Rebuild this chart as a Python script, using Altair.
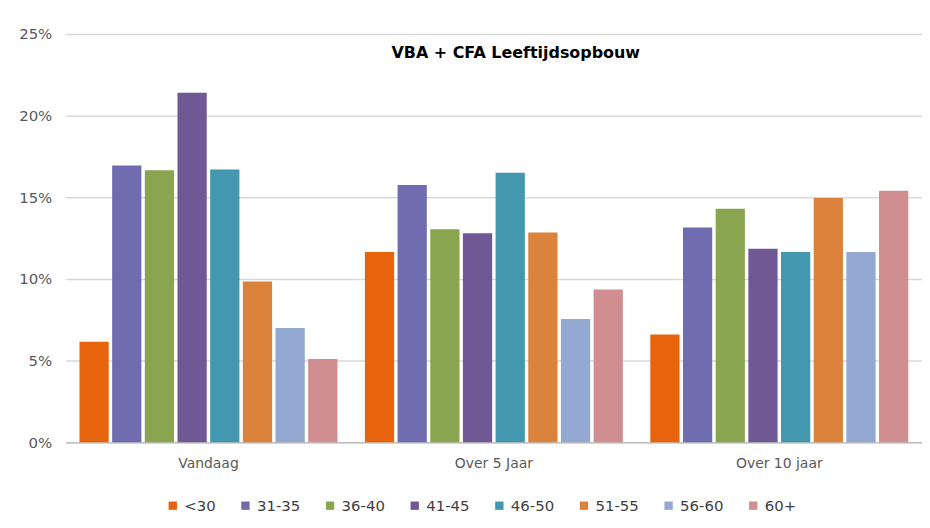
import altair as alt
import pandas as pd

groups = ["Vandaag", "Over 5 Jaar", "Over 10 jaar"]
ages = ["<30", "31-35", "36-40", "41-45", "46-50", "51-55", "56-60", "60+"]
colors = ["#E8640C", "#6F6DB0", "#8AA550", "#6F5893", "#4397AE", "#DB823D", "#94A9D1", "#D18E90"]

vandaag = [6.15, 16.95, 16.65, 21.4, 16.7, 9.85, 7.0, 5.1]
over5 = [11.65, 15.75, 13.05, 12.8, 16.5, 12.85, 7.55, 9.35]
over10 = [6.6, 13.15, 14.3, 11.85, 11.65, 14.95, 11.65, 15.4]

rows = []
for g, vals in zip(groups, [vandaag, over5, over10]):
    for a, v in zip(ages, vals):
        rows.append({"groep": g, "leeftijd": a, "pct": v / 100})
df = pd.DataFrame(rows)

font = "DejaVu Sans"

chart = alt.Chart(df).mark_bar().encode(
    x=alt.X("groep:N", sort=groups, title=None,
            scale=alt.Scale(paddingInner=0, paddingOuter=0),
            axis=alt.Axis(labelAngle=0, ticks=False, grid=False, domainColor="#BFBFBF", domainWidth=1.5,
                          labelPadding=14, labelFontSize=14, labelColor="#595959", labelFont=font)),
    xOffset=alt.XOffset("leeftijd:N", sort=ages,
                        scale=alt.Scale(paddingInner=0.105, paddingOuter=0.42)),
    y=alt.Y("pct:Q", title=None,
            scale=alt.Scale(domain=[0, 0.25], nice=False),
            axis=alt.Axis(values=[0, 0.05, 0.10, 0.15, 0.20, 0.25], format=".0%",
                          domain=False, ticks=False, grid=True, labelPadding=14, labelFontSize=15,
                          labelColor="#595959", labelFont=font,
                          gridColor="#D9D9D9", gridWidth=1.5)),
    color=alt.Color("leeftijd:N", sort=ages,
                    scale=alt.Scale(domain=ages, range=colors),
                    legend=alt.Legend(title=None, orient="none", direction="horizontal",
                                      columns=8, legendX=100, legendY=466,
                                      symbolType="square", symbolSize=70, symbolStrokeWidth=0,
                                      labelFontSize=15, labelColor="#404040", labelFont=font,
                                      labelOffset=4, columnPadding=22)),
).properties(
    width=860,
    height=410,
    padding={"left": 58, "top": 25, "right": 0, "bottom": 75},
    autosize=alt.AutoSizeParams(type="none"),
    title=alt.TitleParams("VBA + CFA Leeftijdsopbouw", font=font, fontSize=16,
                          fontWeight="bold", color="#000000", anchor="middle",
                          dx=22, dy=38),
).configure_view(stroke=None)

chart.save("out.html", embed_options={"renderer": "svg", "actions": False})
